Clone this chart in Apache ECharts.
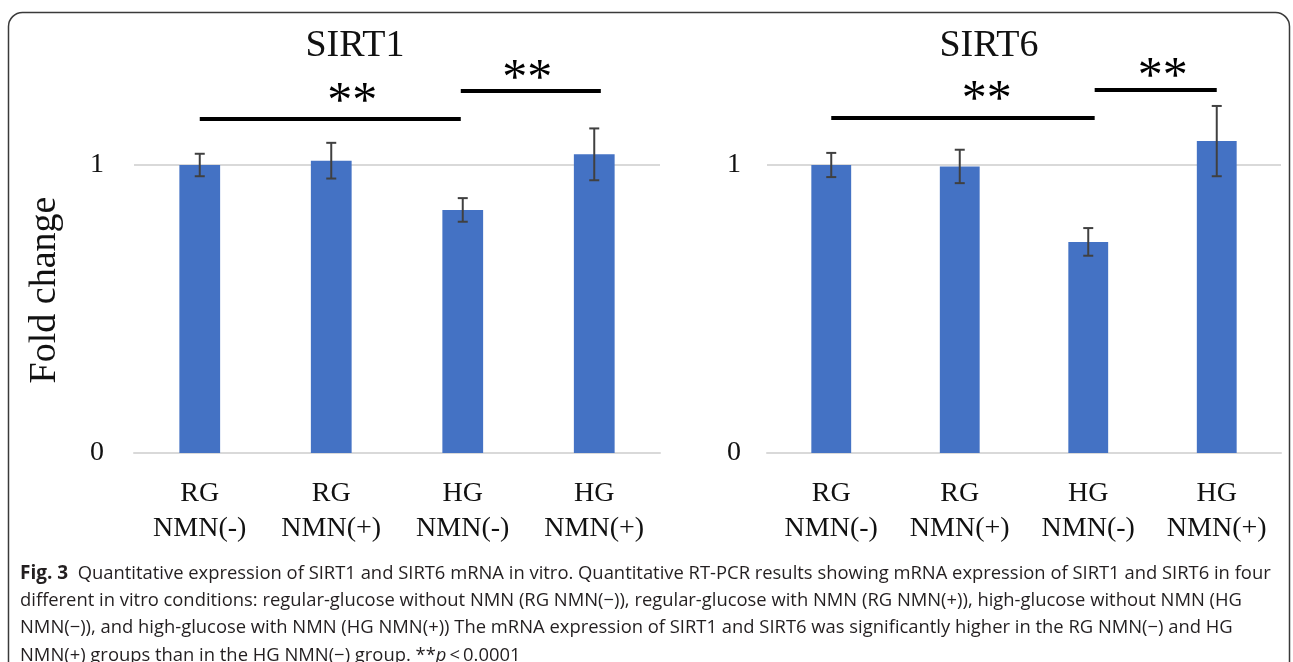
<!DOCTYPE html>
<html><head><meta charset="utf-8">
<script src="https://cdn.jsdelivr.net/npm/echarts@6/dist/echarts.min.js"></script>
<style>html,body{margin:0;padding:0;background:#fff}#c{width:1293px;height:662px}</style>
</head><body><div id="c"></div>
<script>
// ---------- data ----------
const categories = ['RG\nNMN(-)', 'RG\nNMN(+)', 'HG\nNMN(-)', 'HG\nNMN(+)'];
const panelTitles = ['SIRT1', 'SIRT6'];
const yAxisName = 'Fold change';
const sirt1Values = [1.0, 1.015, 0.844, 1.037];
const sirt1Errors = [0.039, 0.062, 0.041, 0.09];
const sirt6Values = [1.0, 0.995, 0.733, 1.083];
const sirt6Errors = [0.042, 0.058, 0.048, 0.122];
// significance brackets: [fromPosition, toPosition, height] (positions in category units)
const sirt1Brackets = [[0, 1.985, 1.16], [1.985, 3.05, 1.257]];
const sirt6Brackets = [[0, 2.05, 1.163], [2.05, 3.0, 1.26]];
// star labels: [position, height]
const sirt1Stars = [[1.16, 1.25], [2.49, 1.33]];
const sirt6Stars = [[1.21, 1.257], [2.58, 1.337]];
const starText = '**';
const captionLines = [
  ['Fig. 3', '  Quantitative expression of SIRT1 and SIRT6 mRNA in vitro. Quantitative RT-PCR results showing mRNA expression of SIRT1 and SIRT6 in four'],
  ['', 'different in vitro conditions: regular-glucose without NMN (RG NMN(\u2212)), regular-glucose with NMN (RG NMN(+)), high-glucose without NMN (HG'],
  ['', 'NMN(\u2212)), and high-glucose with NMN (HG NMN(+)) The mRNA expression of SIRT1 and SIRT6 was significantly higher in the RG NMN(\u2212) and HG'],
  ['', 'NMN(+) groups than in the HG NMN(\u2212) group. **', 'p', '\u2009<\u20090.0001']
];

// ---------- style ----------
const SERIF = "'Liberation Serif', 'Times New Roman', serif";
const SANS = "'Open Sans', 'Noto Sans', sans-serif";
const BAR = '#4472C4';
const GRIDC = '#d9d9d9';
const TXT = '#111';
const CAP = 18.4;

const grids = [
  { left: 134, top: 165, width: 526, height: 288 },
  { left: 767, top: 165, width: 514, height: 288 }
];

function xAxisFor(i) {
  return {
    type: 'category', gridIndex: i, data: categories,
    axisLine: { show: true, lineStyle: { color: GRIDC, width: 2 } },
    axisTick: { show: false },
    axisLabel: { color: TXT, fontFamily: SERIF, fontSize: 28, lineHeight: 35, margin: 23, interval: 0 },
    splitLine: { show: false }
  };
}
function yAxisFor(i) {
  return {
    type: 'value', gridIndex: i, min: 0, max: 1, interval: 1,
    axisLine: { show: false }, axisTick: { show: false },
    axisLabel: { color: TXT, fontFamily: SERIF, fontSize: 28, margin: i === 0 ? 30 : 26 },
    splitLine: { show: true, lineStyle: { color: GRIDC, width: 2 } },
    name: i === 0 ? yAxisName : '',
    nameLocation: 'middle', nameGap: 70,
    nameTextStyle: { color: TXT, fontFamily: SERIF, fontSize: 38, padding: [0, 0, 0, 38] }
  };
}

function errorSeries(i, values, errors) {
  return {
    type: 'custom', xAxisIndex: i, yAxisIndex: i, clip: false, z: 5,
    data: values.map((v, k) => [k, v, errors[k]]),
    encode: { x: 0, y: 1 },
    renderItem: function (params, api) {
      const k = api.value(0), v = api.value(1), e = api.value(2);
      const t = api.coord([k, v + e]), b = api.coord([k, v - e]);
      const hw = 5;
      const st = { stroke: '#404040', lineWidth: 2 };
      return { type: 'group', children: [
        { type: 'line', shape: { x1: t[0], y1: t[1], x2: b[0], y2: b[1] }, style: st },
        { type: 'line', shape: { x1: t[0] - hw, y1: t[1], x2: t[0] + hw, y2: t[1] }, style: st },
        { type: 'line', shape: { x1: b[0] - hw, y1: b[1], x2: b[0] + hw, y2: b[1] }, style: st }
      ]};
    }
  };
}
function bracketSeries(i, brackets) {
  return {
    type: 'custom', xAxisIndex: i, yAxisIndex: i, clip: false, z: 6,
    data: brackets.map(b => [0, b[2], b[0], b[1]]),
    encode: { x: 0, y: 1 },
    renderItem: function (params, api) {
      const x0 = api.coord([0, 0])[0];
      const band = api.size([1, 0])[0];
      const y = api.coord([0, api.value(1)])[1];
      return { type: 'line',
        shape: { x1: x0 + api.value(2) * band, y1: y, x2: x0 + api.value(3) * band, y2: y },
        style: { stroke: '#000', lineWidth: 4 } };
    }
  };
}
function starSeries(i, stars) {
  return {
    type: 'custom', xAxisIndex: i, yAxisIndex: i, clip: false, z: 6,
    data: stars.map(s => [0, s[1], s[0]]),
    encode: { x: 0, y: 1 },
    renderItem: function (params, api) {
      const x0 = api.coord([0, 0])[0];
      const band = api.size([1, 0])[0];
      const y = api.coord([0, api.value(1)])[1];
      const fs = 50;
      return { type: 'text',
        x: x0 + api.value(2) * band, y: y + fs * 0.2,
        style: { text: starText, fontFamily: SERIF, fontSize: fs, fill: '#000', align: 'center', verticalAlign: 'middle' } };
    }
  };
}

const captionGraphics = captionLines.map((ln, idx) => {
  let rt = '';
  if (ln[0]) rt += '{b|' + ln[0] + '}';
  rt += '{n|' + ln[1] + '}';
  if (ln.length > 2) rt += '{i|' + ln[2] + '}{n|' + ln[3] + '}';
  return {
    type: 'text', left: 20, top: 564 + idx * 27.5, z: 10,
    style: {
      text: rt, fill: '#231f20', fontFamily: SANS, fontSize: CAP,
      rich: {
        b: { fontFamily: SANS, fontSize: CAP + 0.6, fontWeight: 'bold', fill: '#231f20' },
        n: { fontFamily: SANS, fontSize: CAP, fill: '#231f20' },
        i: { fontFamily: SANS, fontSize: CAP, fontStyle: 'italic', fill: '#231f20' }
      }
    }
  };
});

const option = {
  backgroundColor: '#fff',
  animation: false,
  grid: grids.map(g => Object.assign({ containLabel: false, outerBoundsMode: 'none' }, g)),
  xAxis: [xAxisFor(0), xAxisFor(1)],
  yAxis: [yAxisFor(0), yAxisFor(1)],
  series: [
    { type: 'bar', xAxisIndex: 0, yAxisIndex: 0, data: sirt1Values, barWidth: '31%', clip: false,
      itemStyle: { color: BAR } },
    { type: 'bar', xAxisIndex: 1, yAxisIndex: 1, data: sirt6Values, barWidth: '31%', clip: false,
      itemStyle: { color: BAR } },
    errorSeries(0, sirt1Values, sirt1Errors),
    errorSeries(1, sirt6Values, sirt6Errors),
    bracketSeries(0, sirt1Brackets),
    bracketSeries(1, sirt6Brackets),
    starSeries(0, sirt1Stars),
    starSeries(1, sirt6Stars)
  ],
  graphic: [
    { type: 'rect', z: 0, shape: { x: 8.5, y: 12.5, width: 1281, height: 720, r: 14 },
      style: { fill: 'none', stroke: '#3a3a3a', lineWidth: 1.5 } },
    { type: 'text', x: 355, y: 46, z: 10,
      style: { text: panelTitles[0], fontFamily: SERIF, fontSize: 38, fill: TXT, align: 'center', verticalAlign: 'middle' } },
    { type: 'text', x: 989, y: 46, z: 10,
      style: { text: panelTitles[1], fontFamily: SERIF, fontSize: 38, fill: TXT, align: 'center', verticalAlign: 'middle' } }
  ].concat(captionGraphics)
};

const chart = echarts.init(document.getElementById('c'), null, { renderer: 'canvas' });
chart.setOption(option);
</script>
</body></html>
